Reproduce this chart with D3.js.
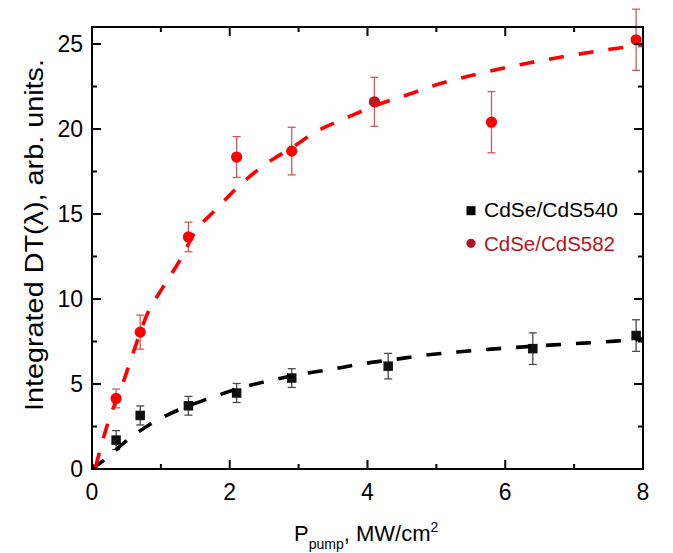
<!DOCTYPE html>
<html>
<head>
<meta charset="utf-8">
<script src="https://cdn.jsdelivr.net/npm/d3@7"></script>
<style>
  body { margin: 0; background: #fff; }
  text { font-family: "Liberation Sans", Arial, sans-serif; }
</style>
</head>
<body>
<div id="chart"></div>
<script>
// measured points
var xRed = [0, 0.35, 0.7, 1.4, 2.1, 2.9, 4.1, 5.8, 7.9];
var yRed = [0, 4.15, 8.05, 13.65, 18.35, 18.7, 21.6, 20.4, 25.25];
var eRed = [0, 0.55, 1.0, 0.87, 1.2, 1.4, 1.44, 1.8, 1.8];

var xBlack = [0.35, 0.7, 1.4, 2.1, 2.9, 4.3, 6.4, 7.9];
var yBlack = [1.7, 3.15, 3.72, 4.47, 5.35, 6.05, 7.08, 7.85];
var eBlack = [0.56, 0.56, 0.55, 0.56, 0.55, 0.75, 0.93, 0.93];

// fit curves
var xRedFit = [0.05, 0.2, 0.47, 0.62, 0.79, 1.03, 1.28, 1.49, 1.81, 2.12, 2.51, 2.9, 3.28, 3.72, 4.13, 4.57, 5.0, 5.46, 6.36, 6.91, 7.37, 7.81, 8.0];
var yRedFit = [0.1, 2.3, 5.3, 7.1, 9.0, 10.7, 12.3, 13.9, 15.3, 16.6, 17.9, 18.9, 19.9, 20.7, 21.4, 22.0, 22.6, 23.1, 23.9, 24.3, 24.6, 24.85, 24.95];
var xBlackFit = [0, 0.2, 0.5, 0.85, 1.27, 1.7, 2.1, 2.6, 3.0, 3.45, 3.95, 4.4, 4.85, 5.3, 5.8, 6.7, 7.2, 7.6, 8.0];
var yBlackFit = [0, 0.6, 1.65, 2.65, 3.5, 4.15, 4.7, 5.22, 5.55, 5.85, 6.2, 6.45, 6.7, 6.88, 7.05, 7.3, 7.42, 7.52, 7.64];

var xTicks = [0, 2, 4, 6, 8];
var yTicks = [0, 5, 10, 15, 20, 25];
var seriesNames = ["CdSe/CdS540", "CdSe/CdS582"];

var width = 673, height = 553;
var svg = d3.select("#chart").append("svg")
    .attr("width", width)
    .attr("height", height);

var x = d3.scaleLinear().domain([0, 8]).range([92, 643]);
var y = d3.scaleLinear().domain([0, 26]).range([469, 27]);

svg.append("clipPath").attr("id", "plotclip")
    .append("rect")
    .attr("x", x(0)).attr("y", y(26))
    .attr("width", x(8) - x(0)).attr("height", y(0) - y(26));

var redPts = xRed.map(function(d, i) { return {x: d, y: yRed[i], e: eRed[i]}; });
var blackPts = xBlack.map(function(d, i) { return {x: d, y: yBlack[i], e: eBlack[i]}; });

var line = d3.line()
    .x(function(d) { return x(d[0]); })
    .y(function(d) { return y(d[1]); })
    .curve(d3.curveMonotoneX);

// error bars
function errBars(pts, color, capW) {
    var g = svg.append("g");
    var eb = g.selectAll("g").data(pts.filter(function(d) { return d.e > 0; }))
        .enter().append("g")
        .attr("stroke", color)
        .attr("stroke-width", 1.3);
    eb.append("line")
        .attr("x1", function(d) { return x(d.x); })
        .attr("x2", function(d) { return x(d.x); })
        .attr("y1", function(d) { return y(d.y - d.e); })
        .attr("y2", function(d) { return y(d.y + d.e); });
    [-1, 1].forEach(function(s) {
        eb.append("line")
            .attr("x1", function(d) { return x(d.x) - capW / 2; })
            .attr("x2", function(d) { return x(d.x) + capW / 2; })
            .attr("y1", function(d) { return y(d.y + s * d.e); })
            .attr("y2", function(d) { return y(d.y + s * d.e); });
    });
}
errBars(redPts, "#cc5a60", 8);
errBars(blackPts, "#4a4a4a", 8);

// markers
var marks = svg.append("g").attr("clip-path", "url(#plotclip)");
marks.selectAll("rect").data(blackPts).enter().append("rect")
    .attr("x", function(d) { return x(d.x) - 4.75; })
    .attr("y", function(d) { return y(d.y) - 4.75; })
    .attr("width", 9.5).attr("height", 9.5)
    .attr("fill", "#111");
marks.selectAll("circle").data(redPts).enter().append("circle")
    .attr("cx", function(d) { return x(d.x); })
    .attr("cy", function(d) { return y(d.y); })
    .attr("r", 5.6)
    .attr("fill", function(d) { return d.x == 4.1 ? "#c0161e" : "#ff0000"; });

// dashed fits
var fits = svg.append("g").attr("clip-path", "url(#plotclip)")
    .attr("fill", "none")
    .attr("stroke-width", 3.6)
    .attr("stroke-dasharray", "15,15");
fits.append("path")
    .attr("d", line(xBlackFit.map(function(d, i) { return [d, yBlackFit[i]]; })))
    .attr("stroke", "#000");
fits.append("path")
    .attr("d", line(xRedFit.map(function(d, i) { return [d, yRedFit[i]]; })))
    .attr("stroke", "#ff0000");

// frame + ticks (inward)
var axes = svg.append("g").attr("stroke", "#000");
axes.append("rect")
    .attr("x", x(0)).attr("y", y(26))
    .attr("width", x(8) - x(0)).attr("height", y(0) - y(26))
    .attr("fill", "none")
    .attr("stroke-width", 2);

d3.range(0, 9).forEach(function(v) {
    var len = v % 2 == 0 ? 9 : 5;
    axes.append("line").attr("x1", x(v)).attr("x2", x(v)).attr("y1", y(0)).attr("y2", y(0) - len).attr("stroke-width", 2);
    axes.append("line").attr("x1", x(v)).attr("x2", x(v)).attr("y1", y(26)).attr("y2", y(26) + len).attr("stroke-width", 2);
});
d3.range(0, 26, 2.5).forEach(function(v) {
    var len = v % 5 == 0 ? 9 : 5;
    axes.append("line").attr("y1", y(v)).attr("y2", y(v)).attr("x1", x(0)).attr("x2", x(0) + len).attr("stroke-width", 2);
    axes.append("line").attr("y1", y(v)).attr("y2", y(v)).attr("x1", x(8)).attr("x2", x(8) - len).attr("stroke-width", 2);
});

// tick labels
svg.append("g").selectAll("text").data(xTicks).enter().append("text")
    .attr("x", function(d) { return x(d); })
    .attr("y", 500)
    .attr("text-anchor", "middle")
    .attr("font-size", "23px")
    .text(function(d) { return d; });

svg.append("g").selectAll("text").data(yTicks).enter().append("text")
    .attr("x", 83)
    .attr("y", function(d) { return y(d) + 8; })
    .attr("text-anchor", "end")
    .attr("font-size", "23px")
    .text(function(d) { return d; });

// axis titles
var xt = svg.append("text")
    .attr("x", 294)
    .attr("y", 541)
    .attr("font-size", "22px");
xt.append("tspan").text("P");
xt.append("tspan").attr("font-size", "14px").attr("dy", 8).text("pump");
xt.append("tspan").attr("dy", -8).text(", MW/cm");
xt.append("tspan").attr("font-size", "14px").attr("dy", -9).text("2");

svg.append("text")
    .attr("transform", "translate(43,235) rotate(-90)")
    .attr("text-anchor", "middle")
    .attr("font-size", "25px")
    .attr("textLength", 352)
    .attr("lengthAdjust", "spacingAndGlyphs")
    .text("Integrated DT(\u03bb), arb. units.");

// legend
var legend = svg.append("g");
legend.append("rect")
    .attr("x", 471 - 4.5).attr("y", 210.7 - 4.5)
    .attr("width", 9).attr("height", 9)
    .attr("fill", "#000");
legend.append("circle")
    .attr("cx", 471).attr("cy", 243.3).attr("r", 4.6)
    .attr("fill", "#b3161e");
legend.append("text")
    .attr("x", 484).attr("y", 217)
    .attr("font-size", "19.5px")
    .attr("textLength", 134)
    .attr("lengthAdjust", "spacingAndGlyphs")
    .attr("fill", "#000")
    .text(seriesNames[0]);
legend.append("text")
    .attr("x", 484).attr("y", 250.5)
    .attr("font-size", "19.5px")
    .attr("textLength", 131)
    .attr("lengthAdjust", "spacingAndGlyphs")
    .attr("fill", "#b3161e")
    .text(seriesNames[1]);
</script>
</body>
</html>
